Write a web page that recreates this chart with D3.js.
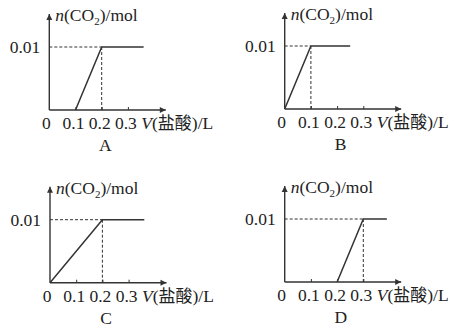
<!DOCTYPE html>
<html><head><meta charset="utf-8">
<script src="https://cdn.jsdelivr.net/npm/d3@7/dist/d3.min.js"></script>
<style>
body{margin:0;background:#fff;}
text{font-family:"Liberation Serif","Times New Roman",serif;fill:#222;}
.cjk{font-family:"Noto Sans CJK SC",sans-serif;}
</style></head>
<body>
<svg id="c" width="466" height="333"></svg>
<script>
// data
const panels = ["A","B","C","D"];
const rampStart = [0.1, 0, 0, 0.2];
const rampEnd = [0.2, 0.1, 0.2, 0.3];
const plateauEnd = [0.36, 0.25, 0.36, 0.39];
const yLevel = 0.01;
const xTicks = [0.1, 0.2, 0.3];
const xTickLabels = ["0", "0.1", "0.2", "0.3"];
const yTickLabel = "0.01";

// layout
const origins = [[49.3,110],[284.7,109],[50,282.7],[284.7,282]];
const svg = d3.select("#c");
const stroke = "#333";
const fs = 17.5;

panels.forEach((name,i)=>{
  const [ox,oy] = origins[i];
  const x = d3.scaleLinear().domain([0,0.1]).range([ox, ox+26.2]);
  const y = d3.scaleLinear().domain([0,0.01]).range([oy, oy-63]);
  const g = svg.append("g");
  // axes lines
  const xEnd = ox+116.5, yTop = oy-96;
  g.append("line").attr("x1",ox).attr("y1",oy).attr("x2",xEnd).attr("y2",oy)
    .attr("stroke",stroke).attr("stroke-width",1.4);
  g.append("line").attr("x1",ox).attr("y1",oy).attr("x2",ox).attr("y2",yTop)
    .attr("stroke",stroke).attr("stroke-width",1.4);
  // arrowheads
  g.append("path").attr("d",`M${xEnd-6},${oy-3}L${xEnd},${oy}L${xEnd-6},${oy+3}Z`).attr("fill",stroke);
  g.append("path").attr("d",`M${ox-3},${yTop+6}L${ox},${yTop}L${ox+3},${yTop+6}Z`).attr("fill",stroke);
  // ticks
  const ax = d3.axisBottom(x).tickValues(xTicks).tickSize(-3).tickFormat("");
  const axg = g.append("g").attr("transform",`translate(0,${oy})`).call(ax);
  axg.select(".domain").remove();
  axg.selectAll("line").attr("stroke",stroke).attr("stroke-width",1);
  // tick labels
  const tv = [0].concat(xTicks);
  g.selectAll("text.tl").data(tv).enter().append("text").attr("class","tl")
    .attr("x",(d,j)=> j===0 ? x(d)-3 : x(d)-2).attr("y",oy+19)
    .attr("text-anchor","middle").attr("font-size",fs)
    .text((d,j)=>xTickLabels[j]);
  // x axis title
  const xt = g.append("text").attr("x",ox+92).attr("y",oy+19).attr("font-size",fs);
  xt.append("tspan").attr("font-style","italic").text("V");
  xt.append("tspan").text("(");
  xt.append("tspan").attr("class","cjk").attr("font-size",17).text("盐酸");
  xt.append("tspan").text(")/L");
  // y axis title
  const yt = g.append("text").attr("x",ox+6).attr("y",oy-89).attr("font-size",fs);
  yt.append("tspan").attr("font-style","italic").text("n");
  yt.append("tspan").text("(CO");
  yt.append("tspan").attr("font-size",11).attr("dy",4).text("2");
  yt.append("tspan").attr("dy",-4).text(")/mol");
  // y tick label
  g.append("text").attr("x",ox-9).attr("y",y(yLevel)+6).attr("text-anchor","end")
    .attr("font-size",fs).text(yTickLabel);
  // dashed guides
  g.append("line").attr("x1",ox).attr("y1",y(yLevel)).attr("x2",x(rampEnd[i])).attr("y2",y(yLevel))
    .attr("stroke",stroke).attr("stroke-width",1).attr("stroke-dasharray","3,2");
  g.append("line").attr("x1",x(rampEnd[i])).attr("y1",y(yLevel)).attr("x2",x(rampEnd[i])).attr("y2",oy)
    .attr("stroke",stroke).attr("stroke-width",1).attr("stroke-dasharray","3,2");
  // data line
  const pts = [[rampStart[i],0],[rampEnd[i],yLevel],[plateauEnd[i],yLevel]];
  g.append("path").attr("d",d3.line().x(d=>x(d[0])).y(d=>y(d[1]))(pts))
    .attr("fill","none").attr("stroke",stroke).attr("stroke-width",1.5);
  // panel letter
  g.append("text").attr("x",ox+56).attr("y",oy+41).attr("text-anchor","middle")
    .attr("font-size",fs).text(name);
});
</script>
</body></html>
